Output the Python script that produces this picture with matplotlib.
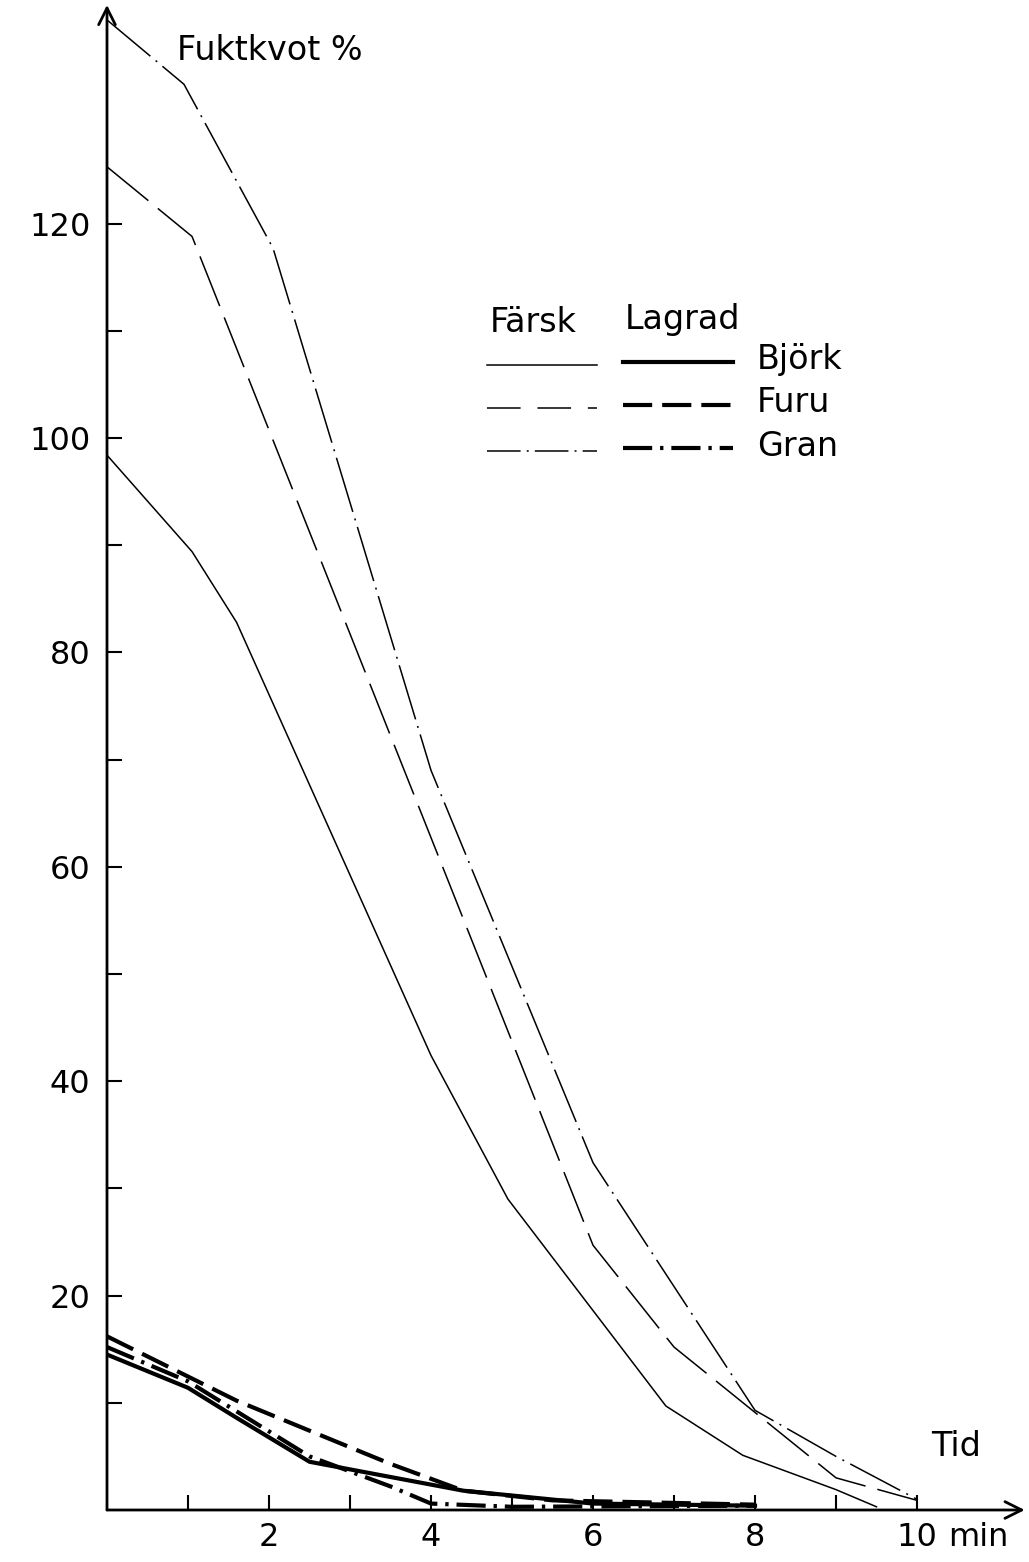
import matplotlib
matplotlib.use('Agg')
import matplotlib.pyplot as plt
from matplotlib.lines import Line2D

# Fuktkvot (%) mot tid (min), färsk och lagrad ved
t_bjork_farsk = [0, 1.05, 1.6, 4.0, 4.95, 6.9, 7.85, 9.0, 9.5]
v_bjork_farsk = [98.4, 89.4, 82.8, 42.4, 29.0, 9.7, 5.1, 1.9, 0.3]
t_furu_farsk = [0, 1.05, 6.0, 7.0, 9.0, 10.0]
v_furu_farsk = [125.3, 118.8, 24.7, 15.2, 3.0, 0.9]
t_gran_farsk = [0, 0.95, 2.05, 4.0, 6.0, 8.0, 9.0, 10.0]
v_gran_farsk = [139.0, 133.0, 117.7, 69.0, 32.4, 9.3, 5.0, 1.0]

t_bjork_lagrad = [0, 1.0, 1.6, 2.5, 4.4, 6.0, 8.0]
v_bjork_lagrad = [14.5, 11.4, 8.6, 4.5, 1.8, 0.6, 0.4]
t_furu_lagrad = [0, 1.6, 2.5, 3.5, 4.4, 5.5, 8.0]
v_furu_lagrad = [16.2, 10.2, 7.4, 4.3, 1.8, 0.9, 0.5]
t_gran_lagrad = [0, 1.0, 2.5, 3.5, 4.0, 5.0, 8.0]
v_gran_lagrad = [15.2, 12.0, 5.0, 2.2, 0.6, 0.3, 0.4]

y_ticks = list(range(10, 130, 10))
y_labels = [str(v) if v % 20 == 0 and v >= 20 else '' for v in y_ticks]
x_ticks = list(range(1, 11))
x_labels = [str(v) if v % 2 == 0 else '' for v in x_ticks]

plt.rcParams['font.family'] = ['DejaVu Sans']

W, H = 1029, 1562
fig = plt.figure(figsize=(W / 100, H / 100), dpi=100)
ax = fig.add_axes([107 / W, 52 / H, (W - 107) / W, 1510 / H])
ax.set_xlim(0, (W - 107) / 81)
ax.set_ylim(0, 1510 / 10.72)
for s in ax.spines.values():
    s.set_visible(False)

thin = 1.1
thick = 3.0
ax.plot(t_bjork_farsk, v_bjork_farsk, color='black', lw=thin)
ax.plot(t_furu_farsk, v_furu_farsk, color='black', lw=thin, linestyle=(0, (35, 8)))
ax.plot(t_gran_farsk, v_gran_farsk, color='black', lw=thin, linestyle=(0, (37, 4.5, 1.3, 4.5)))
ax.plot(t_bjork_lagrad, v_bjork_lagrad, color='black', lw=thick)
ax.plot(t_furu_lagrad, v_furu_lagrad, color='black', lw=thick, linestyle=(0, (7, 2.4)))
ax.plot(t_gran_lagrad, v_gran_lagrad, color='black', lw=thick, linestyle=(0, (7, 1.9, 0.8, 1.9)))

# axlar med pilar
arrow = dict(arrowstyle='->', lw=2.0, color='black', mutation_scale=30, shrinkA=0, shrinkB=0)
ax.annotate('', xy=(0, 140.4), xytext=(0, 0), arrowprops=arrow, annotation_clip=False)
ax.annotate('', xy=(11.33, 0), xytext=(0, 0), arrowprops=arrow, annotation_clip=False)

ax.set_yticks(y_ticks)
ax.set_yticklabels(y_labels)
ax.set_xticks(x_ticks)
ax.set_xticklabels(x_labels)
ax.tick_params(axis='y', direction='in', length=11, width=1.5, pad=12, labelsize=23)
ax.tick_params(axis='x', direction='in', length=11, width=1.5, pad=9, labelsize=23)


def fx(x):
    return x / W


def fy(y):
    return 1 - y / H


fs = 24
fig.text(fx(948), fy(1537), 'min', fontsize=23, ha='left', va='center')
fig.text(fx(177), fy(50), 'Fuktkvot %', fontsize=fs, ha='left', va='center')
fig.text(fx(956), fy(1447), 'Tid', fontsize=fs, ha='center', va='center')

# teckenförklaring
fig.text(fx(490), fy(322), 'Färsk', fontsize=fs, ha='left', va='center')
fig.text(fx(625), fy(320), 'Lagrad', fontsize=fs, ha='left', va='center')
names = ['Björk', 'Furu', 'Gran']
rows = [362, 405, 448]
thin_styles = ['-', (0, (22, 11)), (0, (22, 4, 1.3, 4))]
thick_styles = ['-', (0, (7, 2.4)), (0, (7, 1.9, 0.8, 1.9))]
for name, y, ls1, ls2 in zip(names, rows, thin_styles, thick_styles):
    fig.add_artist(Line2D([fx(487), fx(597)], [fy(y + 3), fy(y + 3)], transform=fig.transFigure,
                          color='black', lw=thin, linestyle=ls1))
    fig.add_artist(Line2D([fx(623), fx(733)], [fy(y), fy(y)], transform=fig.transFigure,
                          color='black', lw=thick, linestyle=ls2))
    fig.text(fx(757), fy(y - 2), name, fontsize=fs, ha='left', va='center')

fig.savefig('out.png', dpi=100, facecolor='white')
